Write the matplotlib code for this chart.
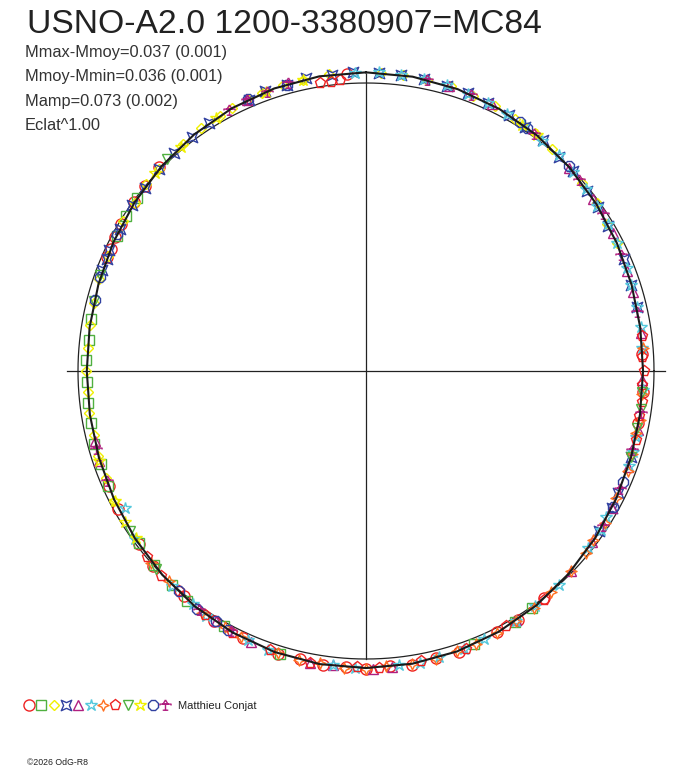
"""
USNO-A2.0 1200-3380907=MC84 polar phase diagram

Phase runs clockwise from the top of the circle, the magnitude (minus the
mean magnitude) is drawn as a radial offset from the mean circle.
"""

import numpy as np
import matplotlib
matplotlib.use('Agg')  # no display
import matplotlib.pyplot as plt
from matplotlib.path import Path

TITLE = 'USNO-A2.0 1200-3380907=MC84'
INFO_LINES = [
    'Mmax-Mmoy=0.037 (0.001)',
    'Mmoy-Mmin=0.036 (0.001)',
    'Mamp=0.073 (0.002)',
    'Eclat^1.00',
]
OBSERVER = 'Matthieu Conjat'
COPYRIGHT = '\u00a92026 OdG-R8'

# fitted light curve (mag - mean), one value every 0.025 in phase
FIT_PHASE = [0.000, 0.025, 0.050, 0.075, 0.100, 0.125, 0.150, 0.175, 0.200, 0.225,
             0.250, 0.275, 0.300, 0.325, 0.350, 0.375, 0.400, 0.425, 0.450, 0.475,
             0.500, 0.525, 0.550, 0.575, 0.600, 0.625, 0.650, 0.675, 0.700, 0.725,
             0.750, 0.775, 0.800, 0.825, 0.850, 0.875, 0.900, 0.925, 0.950, 0.975]
FIT_DMAG = [0.0395, 0.0370, 0.0311, 0.0223, 0.0114, -0.0007, -0.0128, -0.0237, -0.0324, -0.0382,
            -0.0405, -0.0391, -0.0343, -0.0264, -0.0163, -0.0050, 0.0065, 0.0170, 0.0254, 0.0311,
            0.0335, 0.0324, 0.0279, 0.0206, 0.0112, 0.0007, -0.0098, -0.0193, -0.0267, -0.0312,
            -0.0325, -0.0303, -0.0248, -0.0165, -0.0063, 0.0050, 0.0161, 0.0260, 0.0336, 0.0383]

# observations, one pair of lists per observing session (phase, mag - mean)
S1_PHASE = [0.816, 0.821, 0.828, 0.836, 0.850, 0.861, 0.874, 0.990, 0.683, 0.669,
            0.646, 0.632, 0.608, 0.587, 0.569, 0.548, 0.536, 0.523, 0.511, 0.500,
            0.487, 0.475, 0.462, 0.449, 0.426, 0.413, 0.394, 0.240, 0.262, 0.280]
S1_DMAG = [-0.018, -0.020, -0.013, -0.010, -0.004, 0.002, 0.010, 0.036, -0.024, -0.015,
           -0.010, 0.001, 0.006, 0.019, 0.021, 0.031, 0.028, 0.035, 0.031, 0.036,
           0.030, 0.034, 0.026, 0.028, 0.015, 0.014, 0.002, -0.043, -0.038, -0.041]

S2_PHASE = [0.853, 0.841, 0.829, 0.780, 0.768, 0.756, 0.744, 0.732, 0.720, 0.708,
            0.696, 0.683, 0.647, 0.632, 0.617, 0.605, 0.581, 0.547, 0.440, 0.415, 0.403]
S2_DMAG = [-0.003, -0.008, -0.016, -0.031, -0.033, -0.030, -0.034, -0.029, -0.031, -0.025,
           -0.027, -0.020, -0.011, -0.001, 0.004, 0.012, 0.016, 0.027, 0.020, 0.015, 0.006]

S3_PHASE = [0.674, 0.688, 0.701, 0.713, 0.726, 0.738, 0.750, 0.763, 0.776, 0.789,
            0.803, 0.817, 0.838, 0.850, 0.862, 0.873, 0.892, 0.905, 0.917, 0.925,
            0.935, 0.943, 0.955, 0.966, 0.980, 0.008, 0.020, 0.033, 0.046, 0.059,
            0.072, 0.085, 0.098, 0.111, 0.136, 0.150, 0.163, 0.175]
S3_DMAG = [-0.017, -0.025, -0.026, -0.031, -0.030, -0.034, -0.031, -0.033, -0.029, -0.028,
           -0.022, -0.020, -0.009, -0.007, 0.001, 0.006, 0.011, 0.020, 0.022, 0.028,
           0.030, 0.031, 0.037, 0.036, 0.041, 0.037, 0.039, 0.033, 0.034, 0.027,
           0.025, 0.016, 0.014, 0.004, -0.004, -0.011, -0.020, -0.022]

S4_PHASE = [0.808, 0.815, 0.820, 0.833, 0.848, 0.860, 0.873, 0.885, 0.898, 0.910,
            0.935, 0.945, 0.957, 0.968, 0.982, 0.993, 0.007, 0.019, 0.031, 0.044,
            0.056, 0.068, 0.081, 0.092, 0.104, 0.117, 0.128, 0.141, 0.152, 0.164,
            0.185, 0.200, 0.213, 0.300, 0.322, 0.331, 0.346]
S4_DMAG = [-0.020, -0.022, -0.016, -0.014, -0.005, -0.003, 0.005, 0.011, 0.014, 0.021,
           0.027, 0.034, 0.034, 0.039, 0.038, 0.041, 0.038, 0.036, 0.037, 0.031,
           0.030, 0.023, 0.020, 0.013, 0.011, 0.001, -0.001, -0.010, -0.012, -0.021,
           -0.026, -0.034, -0.035, -0.036, -0.029, -0.023, -0.019]

S5_PHASE = [0.045, 0.070, 0.125, 0.147, 0.169, 0.192, 0.204, 0.228, 0.255, 0.284,
            0.306, 0.331, 0.353, 0.373, 0.414, 0.486, 0.496, 0.518, 0.530, 0.564,
            0.586, 0.698, 0.710, 0.934]
S5_DMAG = [0.031, 0.026, -0.003, -0.013, -0.019, -0.031, -0.035, -0.037, -0.043, -0.036,
           -0.034, -0.022, -0.017, -0.004, 0.010, 0.035, 0.036, 0.031, 0.034, 0.026,
           0.015, -0.024, -0.031, 0.030]

S6_PHASE = [0.994, 0.007, 0.019, 0.031, 0.044, 0.056, 0.068, 0.080, 0.091, 0.104,
            0.116, 0.128, 0.140, 0.151, 0.163, 0.175, 0.190, 0.200, 0.213, 0.225,
            0.237, 0.261, 0.288, 0.297, 0.305, 0.337, 0.345, 0.357, 0.383, 0.401,
            0.414, 0.434, 0.446, 0.460, 0.471, 0.482, 0.506, 0.518, 0.554, 0.566,
            0.592, 0.602, 0.617, 0.650, 0.668]
S6_DMAG = [0.037, 0.040, 0.036, 0.035, 0.035, 0.028, 0.026, 0.018, 0.016, 0.008,
           0.005, -0.004, -0.007, -0.015, -0.018, -0.025, -0.027, -0.033, -0.037, -0.036,
           -0.041, -0.038, -0.039, -0.033, -0.031, -0.024, -0.016, -0.015, 0.001, 0.005,
           0.014, 0.018, 0.026, 0.026, 0.032, 0.030, 0.035, 0.031, 0.029, 0.021,
           0.017, 0.008, 0.006, -0.008, -0.040]

S7_PHASE = [0.237, 0.263, 0.278, 0.286, 0.298, 0.308, 0.325, 0.340, 0.352, 0.360,
            0.373, 0.389, 0.402, 0.414, 0.426, 0.439, 0.450, 0.462, 0.475, 0.489,
            0.500, 0.512, 0.525, 0.536, 0.548, 0.570, 0.580, 0.595, 0.620, 0.634]
S7_DMAG = [-0.038, -0.042, -0.037, -0.039, -0.033, -0.030, -0.028, -0.019, -0.017, -0.010,
           -0.008, 0.000, 0.010, 0.011, 0.019, 0.023, 0.024, 0.030, 0.033, 0.030,
           0.036, 0.035, 0.030, 0.033, 0.026, 0.024, 0.017, 0.015, 0.001, -0.001]

S8_PHASE = [0.975, 0.981, 0.986, 0.230, 0.242, 0.250, 0.258, 0.268, 0.276, 0.290,
            0.395, 0.420, 0.445, 0.470, 0.493, 0.505, 0.530, 0.553, 0.575, 0.593,
            0.612, 0.625, 0.638]
S8_DMAG = [0.012, 0.011, 0.015, -0.037, -0.042, -0.038, -0.043, -0.037, -0.041, -0.034,
           0.006, 0.013, 0.026, 0.028, 0.035, 0.031, 0.034, 0.025, 0.023, 0.016,
           0.004, 0.005, -0.001]

S9_PHASE = [0.790, 0.805, 0.880, 0.262, 0.272, 0.283, 0.300, 0.630, 0.655]
S9_DMAG = [-0.025, -0.021, 0.009, -0.042, -0.039, -0.040, -0.036, 0.002, -0.010]

S10_PHASE = [0.650, 0.661, 0.674, 0.698, 0.870, 0.890, 0.915, 0.945, 0.966, 0.090, 0.100]
S10_DMAG = [-0.012, -0.013, -0.021, -0.024, 0.005, 0.010, 0.024, 0.030, 0.038, 0.014, 0.013]

S11_PHASE = [0.791, 0.804, 0.830, 0.935, 0.957, 0.088, 0.093, 0.124, 0.315, 0.330,
             0.578, 0.586, 0.598, 0.612]
S11_DMAG = [-0.029, -0.021, -0.013, 0.031, 0.034, 0.019, 0.013, 0.002, -0.031, -0.023,
            0.022, 0.015, 0.014, 0.004]

S12_PHASE = [0.923, 0.934, 0.946, 0.958, 0.033, 0.058, 0.098, 0.134, 0.157, 0.182,
             0.216, 0.274, 0.296, 0.319, 0.342, 0.576, 0.597, 0.686, 0.705]
S12_DMAG = [0.027, 0.028, 0.031, 0.037, 0.036, 0.026, 0.010, -0.007, -0.014, -0.028,
            -0.038, -0.037, -0.037, -0.030, -0.017, 0.019, 0.015, -0.025, -0.026]

# geometry in pixels (axes coordinates == image pixels)
CX, CY = 366, 371
R_PX = 288
K_PX = 270  # pixels per magnitude

RED = '#ee2222'
GREEN = '#50b040'
YELLOW = '#f0f000'
BLUE = '#3040a0'
PURPLE = '#b01f80'
CYAN = '#55c8dc'
ORANGE = '#ff7020'


def star4(diagonal=False):
    """Concave four point star, tips on the axes or on the diagonals."""
    if diagonal:
        verts = [(1, 1), (0.55, 0), (1, -1), (0, -0.55), (-1, -1), (-0.55, 0), (-1, 1), (0, 0.55), (1, 1)]
    else:
        verts = [(0, 1), (0.3, 0.3), (1, 0), (0.3, -0.3), (0, -1), (-0.3, -0.3), (-1, 0), (-0.3, 0.3), (0, 1)]
    codes = [Path.MOVETO] + [Path.LINETO] * (len(verts) - 2) + [Path.CLOSEPOLY]
    return Path(verts, codes)


def trophy():
    """Triangle on a bar with a stem and a foot."""
    verts = [(0, 1), (-0.45, 0.25), (0.45, 0.25), (0, 1),
             (-1, 0.0), (-1, 0.25), (1, 0.25), (1, 0.0),
             (0, 0.25), (0, -0.85),
             (-0.5, -0.85), (0.5, -0.85)]
    codes = [Path.MOVETO, Path.LINETO, Path.LINETO, Path.LINETO,
             Path.MOVETO, Path.LINETO, Path.LINETO, Path.LINETO,
             Path.MOVETO, Path.LINETO,
             Path.MOVETO, Path.LINETO]
    return Path(verts, codes)


def polar_xy(phase, dmag):
    """Phase clockwise from the top, fainter points further out."""
    ang = 2 * np.pi * np.asarray(phase, dtype=float)
    r = R_PX + K_PX * np.asarray(dmag, dtype=float)
    return CX + r * np.sin(ang), CY - r * np.cos(ang)


SERIES = [
    (S1_PHASE, S1_DMAG, 'o', RED, 8.0),
    (S2_PHASE, S2_DMAG, 's', GREEN, 7.0),
    (S3_PHASE, S3_DMAG, 'D', YELLOW, 5.6),
    (S4_PHASE, S4_DMAG, star4(True), BLUE, 7.5),
    (S5_PHASE, S5_DMAG, '^', PURPLE, 7.5),
    (S6_PHASE, S6_DMAG, '*', CYAN, 9.0),
    (S7_PHASE, S7_DMAG, star4(False), ORANGE, 8.0),
    (S8_PHASE, S8_DMAG, 'p', RED, 8.0),
    (S9_PHASE, S9_DMAG, 'v', GREEN, 7.5),
    (S10_PHASE, S10_DMAG, '*', YELLOW, 9.0),
    (S11_PHASE, S11_DMAG, '8', BLUE, 7.8),
    (S12_PHASE, S12_DMAG, trophy(), PURPLE, 8.0),
]


def main():
    plt.rcParams['font.family'] = ['Liberation Sans', 'DejaVu Sans']
    fig = plt.figure(figsize=(6.88, 7.68), dpi=100)
    ax = fig.add_axes([0, 0, 1, 1])
    ax.set_xlim(0, 688)
    ax.set_ylim(768, 0)
    ax.axis('off')

    # mean circle and axes
    t = np.linspace(0, 2 * np.pi, 721)
    ax.plot(CX + R_PX * np.cos(t), CY + R_PX * np.sin(t), color='#222222', lw=0.9, zorder=1)
    ax.plot([67, 665], [CY, CY], color='#222222', lw=0.9, zorder=1)
    ax.plot([CX, CX], [74, 659], color='#222222', lw=0.9, zorder=1)

    # observations
    for phase, dmag, marker, color, ms in SERIES:
        x, y = polar_xy(phase, dmag)
        ax.plot(x, y, linestyle='none', marker=marker, ms=ms, mfc='none',
                mec=color, mew=1.0, zorder=2)

    # fitted curve
    fx, fy = polar_xy(FIT_PHASE + FIT_PHASE[:1], FIT_DMAG + FIT_DMAG[:1])
    ax.plot(fx, fy, color='#1a1a1a', lw=1.5, zorder=3)

    # texts
    ax.text(27, 33, TITLE, fontsize=24.2, color='#222222', va='baseline', ha='left')
    for i, line in enumerate(INFO_LINES):
        ax.text(25, 57 + i * 24.5, line, fontsize=11.8, color='#333333',
                va='baseline', ha='left')

    # legend row of session symbols
    for i, (_, _, marker, color, ms) in enumerate(SERIES):
        ax.plot(29 + i * 12.35, 705, linestyle='none', marker=marker, ms=ms, mfc='none',
                mec=color, mew=1.0)
    ax.text(178, 709, OBSERVER, fontsize=8.0, color='#222222', va='baseline', ha='left')
    ax.text(27, 765, COPYRIGHT, fontsize=6.3, color='#222222', va='baseline', ha='left')

    fig.savefig('out.png', dpi=100)
    plt.close(fig)


if __name__ == '__main__':
    main()
